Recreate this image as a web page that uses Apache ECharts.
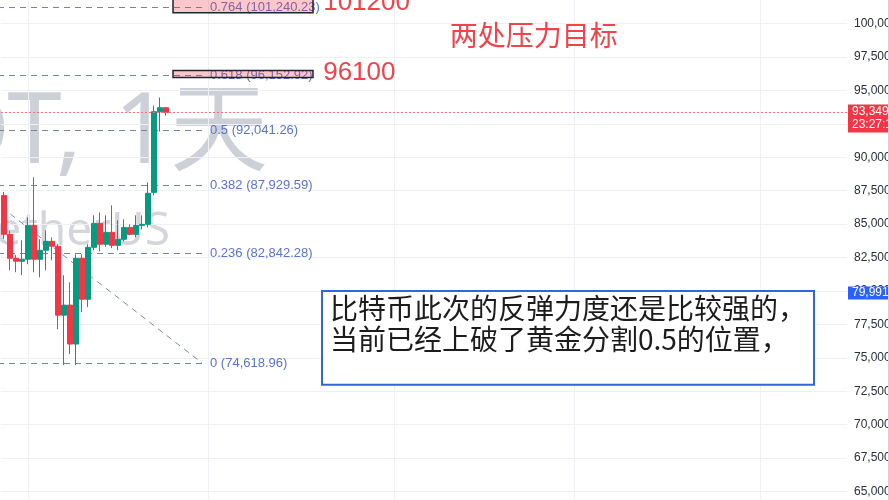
<!DOCTYPE html>
<html><head><meta charset="utf-8">
<script src="https://cdn.jsdelivr.net/npm/echarts@6/dist/echarts.min.js"></script>
<style>html,body{margin:0;padding:0;background:#fff;overflow:hidden}#c{width:889px;height:500px}</style>
</head><body><div id="c"></div><script>
// ---- data (BTC/USDT daily candles) ----
const dates = ['2025-03-28','2025-03-29','2025-03-30','2025-03-31','2025-04-01','2025-04-02','2025-04-03','2025-04-04','2025-04-05','2025-04-06','2025-04-07','2025-04-08','2025-04-09','2025-04-10','2025-04-11','2025-04-12','2025-04-13','2025-04-14','2025-04-15','2025-04-16','2025-04-17','2025-04-18','2025-04-19','2025-04-20','2025-04-21','2025-04-22','2025-04-23','2025-04-24'];
const opens  = [87140,84230,82440,82220,82370,84900,82370,83040,83710,83340,78190,78940,76030,82440,79380,83260,85050,83490,84380,83410,83860,84750,84230,84900,84980,87370,93400,93700];
const closes = [84230,82440,82220,82370,84900,82370,83040,83710,83340,78190,78940,76030,82440,79380,83260,85050,83490,84380,83410,83860,84750,84230,84900,84980,87300,93400,93700,93349];
const lows   = [83900,81550,81400,81180,82000,81400,81020,81550,82290,77140,74460,75280,74460,78410,78790,83040,82960,83300,83200,83040,83700,84160,84010,84600,84750,87140,91920,93100];
const highs  = [87400,84500,82700,83790,85500,88500,83860,84530,84010,83490,81170,80650,82740,82740,83490,85650,85870,85650,86400,85280,85350,84980,85650,85650,88110,93860,94460,93750];
const lastPrice = 93349;
const countdown = '23:27:15';
const markerPrice = 79991;
const yTickStep = 2500;
// Fibonacci retracement (level 1 anchored at the Jan-20 high, level 0 at the Apr low)
const fibLevels = [0, 0.236, 0.382, 0.5, 0.618, 0.764];
const fibPrices = [74618.96, 82842.28, 87929.59, 92041.26, 96152.92, 101240.23];
const fibHighPrice = 109463.4;
const fibAnchorIdx = [-67, 33];
// drawings
const highlightBoxes = [[28.17, 51.5, 101800, 100800], [28.17, 51.5, 96480, 95960]];
const noteTexts = ['101200', '96100', '两处压力目标'];
const noteAnchors = [[53.2, 101550], [53.2, 96320], [74.3, 99130]];
const commentLines = ['比特币此次的反弹力度还是比较强的，', '当前已经上破了黄金分割0.5的位置，'];
const commentBox = [53, 135, 80000, 72980];
const watermark = ['BTCUSDT,', '1天', 'Bitcoin / TetherUS'];

// ---- build ----
const allDates = dates.slice();
{ let t = Date.parse(dates[dates.length-1] + 'T00:00:00Z');
  while (allDates.length < 141) { t += 86400000; allDates.push(new Date(t).toISOString().slice(0,10)); } }
const monthStarts = allDates.map((d,i)=>[i, d]).filter(a => a[1].endsWith('-01')).map(a => [a[0]]);
const fmt0 = v => v.toLocaleString('en-US');
const fmt2 = v => v.toLocaleString('en-US', {minimumFractionDigits:2, maximumFractionDigits:2});
const latin = '"Liberation Sans", Arial, sans-serif';
const cjk = '"Noto Sans CJK SC", "Noto Sans", sans-serif';
const wmFont = '"Noto Sans", "Noto Sans CJK SC", sans-serif';

const chart = echarts.init(document.getElementById('c'), null, {renderer:'canvas', width:889, height:500});
const option = {
  animation: false,
  backgroundColor: '#ffffff',
  grid: {left: 1, top: -10, width: 846, height: 535, containLabel: false, outerBoundsMode: 'none'},
  xAxis: [
    {type: 'category', data: allDates, boundaryGap: true, show: false},
    {type: 'value', min: -0.5, max: allDates.length - 0.5, show: false}
  ],
  yAxis: {
    type: 'value', position: 'right', min: 62500, max: 102500, interval: yTickStep,
    axisLine: {show: false}, axisTick: {show: false},
    axisLabel: {margin: 7, color: '#2a2e39', fontSize: 12, fontFamily: latin, formatter: v => fmt0(v)},
    splitLine: {lineStyle: {color: '#eef0f4', width: 1}}
  },
  graphic: [
    {type: 'text', z: 0, x: 82, y: 135, silent: true,
     style: {text: watermark[0], fill: '#cdd0d7', fontSize: 98, fontFamily: wmFont, textAlign: 'right', textVerticalAlign: 'middle'}},
    {type: 'text', z: 0, x: 268, y: 135, silent: true,
     style: {text: watermark[1], fill: '#cdd0d7', fontSize: 98, fontFamily: wmFont, textAlign: 'right', textVerticalAlign: 'middle'}},
    {type: 'text', z: 0, x: 170, y: 232, silent: true,
     style: {text: watermark[2], fill: '#d4d6dc', fontSize: 46, fontFamily: wmFont, textAlign: 'right', textVerticalAlign: 'middle'}},
    {type: 'line', z: 10, silent: true, shape: {x1: 888.5, y1: 0, x2: 888.5, y2: 500}, style: {stroke: '#cfd2d8', lineWidth: 1}}
  ],
  series: [
    { // month grid lines
      type: 'custom', xAxisIndex: 0, yAxisIndex: 0, z: 0, silent: true, data: monthStarts,
      renderItem(params, api) {
        const x = Math.round(api.coord([api.value(0), 80000])[0]) + 0.5;
        const cs = params.coordSys;
        return {type: 'line', shape: {x1: x, y1: cs.y, x2: x, y2: cs.y + cs.height}, style: {stroke: '#eef0f4', lineWidth: 1}};
      }
    },
    { // fib diagonal
      type: 'custom', xAxisIndex: 1, yAxisIndex: 0, z: 1, silent: true,
      data: [[fibAnchorIdx[0], fibHighPrice, fibAnchorIdx[1], fibPrices[0]]],
      encode: {x: [0, 2], y: [1, 3]},
      renderItem(params, api) {
        const a = api.coord([api.value(0), api.value(1)]);
        const b = api.coord([api.value(2), api.value(3)]);
        return {type: 'line', shape: {x1: a[0], y1: a[1], x2: b[0], y2: b[1]}, style: {stroke: '#7d89ad', lineWidth: 1, lineDash: [6, 5]}};
      }
    },
    { // fib levels
      type: 'custom', xAxisIndex: 1, yAxisIndex: 0, z: 1, silent: true,
      data: fibPrices.map(p => [fibAnchorIdx[1], p]),
      renderItem(params, api) {
        const p = api.value(1);
        const a = api.coord([fibAnchorIdx[0], p]);
        const b = api.coord([api.value(0), p]);
        const y = Math.round(b[1]) + 0.5;
        return {type: 'group', children: [
          {type: 'line', shape: {x1: a[0], y1: y, x2: b[0], y2: y}, style: {stroke: '#77839f', lineWidth: 1, lineDash: [6, 5]}},
          {type: 'text', x: b[0] + 8, y: y, style: {text: fibLevels[params.dataIndex] + ' (' + fmt2(p) + ')', fill: '#5b73c8', fontSize: 13, fontFamily: latin, textAlign: 'left', textVerticalAlign: 'middle'}}
        ]};
      }
    },
    {
      type: 'candlestick', xAxisIndex: 0, yAxisIndex: 0, z: 2, barWidth: 5,
      data: dates.map((d, i) => [opens[i], closes[i], lows[i], highs[i]]),
      itemStyle: {color: '#089981', color0: '#f23645', borderColor: '#089981', borderColor0: '#f23645', borderWidth: 1},
      markLine: {
        symbol: ['none', 'none'], silent: true, animation: false,
        data: [
          {yAxis: lastPrice, lineStyle: {color: '#f5707a', type: [2, 2], width: 1},
           label: {show: true, position: 'end', distance: 1, offset: [0, 6], formatter: fmt0(lastPrice) + '\n' + countdown,
                   backgroundColor: '#f23645', color: '#ffffff', fontSize: 12, lineHeight: 13, padding: [1, 4, 1, 4], fontFamily: latin}},
          {yAxis: markerPrice, lineStyle: {color: 'rgba(0,0,0,0)', width: 0},
           label: {show: true, position: 'end', distance: 1, offset: [0, 2], formatter: fmt0(markerPrice),
                   backgroundColor: '#2962ff', color: '#ffffff', fontSize: 12, lineHeight: 13, padding: [0, 4, 0, 4], fontFamily: latin}}
        ]
      }
    },
    { // highlight boxes over fib targets
      type: 'custom', xAxisIndex: 1, yAxisIndex: 0, z: 4, silent: true,
      data: highlightBoxes, encode: {x: [0, 1], y: [2, 3]},
      renderItem(params, api) {
        const p1 = api.coord([api.value(0), api.value(2)]);
        const p2 = api.coord([api.value(1), api.value(3)]);
        return {type: 'rect', shape: {x: p1[0], y: p1[1], width: p2[0] - p1[0], height: p2[1] - p1[1]},
                style: {fill: 'rgba(242,54,69,0.28)', stroke: '#1f2430', lineWidth: 1.5}};
      }
    },
    { // red notes
      type: 'custom', xAxisIndex: 1, yAxisIndex: 0, z: 5, silent: true,
      data: noteAnchors,
      renderItem(params, api) {
        const p = api.coord([api.value(0), api.value(1)]);
        const t = noteTexts[params.dataIndex];
        const isCjk = /[\u4e00-\u9fff]/.test(t);
        return {type: 'text', x: p[0], y: p[1], style: {text: t, fill: '#f0434b', fontSize: isCjk ? 28 : 26,
                fontFamily: isCjk ? cjk : latin, textAlign: 'left', textVerticalAlign: 'middle'}};
      }
    },
    { // comment box
      type: 'custom', xAxisIndex: 1, yAxisIndex: 0, z: 5, silent: true,
      data: [commentBox], encode: {x: [0, 1], y: [2, 3]},
      renderItem(params, api) {
        const p1 = api.coord([api.value(0), api.value(2)]);
        const p2 = api.coord([api.value(1), api.value(3)]);
        return {type: 'group', children: [
          {type: 'rect', shape: {x: p1[0], y: p1[1], width: p2[0] - p1[0], height: p2[1] - p1[1]},
           style: {fill: 'rgba(255,255,255,0.9)', stroke: '#3565dc', lineWidth: 2}},
          {type: 'text', x: p1[0] + 8, y: p1[1] + 2, style: {text: commentLines.join('\n'), fill: '#1c1c1c', fontSize: 28, lineHeight: 31,
           fontFamily: cjk, textAlign: 'left', textVerticalAlign: 'top'}}
        ]};
      }
    }
  ]
};
chart.setOption(option);
</script></body></html>
